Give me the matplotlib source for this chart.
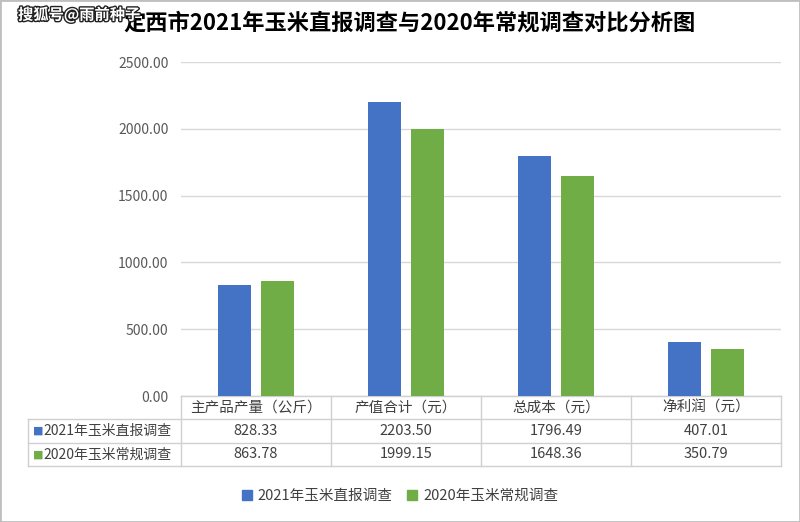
import matplotlib
matplotlib.use('Agg')
import matplotlib.pyplot as plt
import matplotlib.patheffects as pe
from matplotlib.patches import Patch, Rectangle
import numpy as np

plt.rcParams['font.family'] = ['Noto Sans CJK SC', 'DejaVu Sans']

# data
categories = ['主产品产量（公斤）', '产值合计（元）', '总成本（元）', '净利润（元）']
series_names = ['2021年玉米直报调查', '2020年玉米常规调查']
vals_2021 = [828.33, 2203.50, 1796.49, 407.01]
vals_2020 = [863.78, 1999.15, 1648.36, 350.79]
colors = ['#4472C4', '#70AD47']
yticks = [0, 500, 1000, 1500, 2000, 2500]

W, H = 800, 522
fig = plt.figure(figsize=(W / 100, H / 100), dpi=100)
fig.patches.append(Rectangle((0, 0), 1, 1, transform=fig.transFigure,
                             fill=False, edgecolor='#bfbfbf', linewidth=2))

# axes placed in pixel terms
left, right, top, bottom = 181, 781, 62, 396
ax = fig.add_axes([left / W, 1 - bottom / H, (right - left) / W, (bottom - top) / H])

x = np.arange(len(categories))
bw = 0.22
off = 0.143
ax.bar(x - off, vals_2021, bw, color=colors[0], zorder=3)
ax.bar(x + off, vals_2020, bw, color=colors[1], zorder=3)

ax.set_xlim(-0.5, len(categories) - 0.5)
ax.set_ylim(0, 2500)
ax.set_yticks(yticks)
ax.set_yticklabels([f'{v:.2f}' for v in yticks], fontsize=10, color='#595959')
ax.tick_params(axis='y', length=0, pad=9)
ax.set_xticks([])
ax.yaxis.grid(True, color='#d9d9d9', linewidth=1, zorder=0)
for s in ax.spines.values():
    s.set_visible(False)

# data table under the axes
grid_c = '#d0d0d0'
row_h = 0.07
label_left = -0.5 - 153 / 150
tr = ax.get_xaxis_transform()
kw = dict(transform=tr, clip_on=False, color=grid_c, linewidth=1)
ax.plot([-0.5, len(categories) - 0.5], [0, 0], **kw)
for k in (1, 2, 3):
    ax.plot([label_left, len(categories) - 0.5], [-k * row_h] * 2, **kw)
ax.plot([label_left] * 2, [-row_h, -3 * row_h], **kw)
for xb in np.arange(len(categories) + 1) - 0.5:
    ax.plot([xb, xb], [0, -3 * row_h], **kw)

for i, c in enumerate(categories):
    ax.text(i, -0.5 * row_h, c, transform=tr, ha='center', va='center',
            fontsize=10.5, color='#404040')
    ax.text(i, -1.5 * row_h, f'{vals_2021[i]:.2f}', transform=tr, ha='center',
            va='center', fontsize=10.5, color='#404040')
    ax.text(i, -2.5 * row_h, f'{vals_2020[i]:.2f}', transform=tr, ha='center',
            va='center', fontsize=10.5, color='#404040')

for r, (name, col) in enumerate(zip(series_names, colors)):
    yc = -(1.5 + r) * row_h
    ax.text(label_left + 0.03, yc, '■', transform=tr, ha='left', va='center',
            fontsize=8, color=col, family=['DejaVu Sans'])
    ax.text(label_left + 0.1, yc, name, transform=tr, ha='left', va='center',
            fontsize=10, color='#404040')

# legend
handles = [Patch(color=c, label=n) for c, n in zip(colors, series_names)]
fig.legend(handles=handles, loc='center', bbox_to_anchor=(0.5, 1 - 496 / H), ncol=2,
           frameon=False, fontsize=10.5, handlelength=0.7, handleheight=0.7,
           handletextpad=0.4, columnspacing=1.0, labelcolor='#404040')

# title
fig.text(0.512, 1 - 23 / H, '定西市2021年玉米直报调查与2020年常规调查对比分析图',
         ha='center', va='center', fontsize=16, fontweight='bold', color='#000000')

# watermark
fig.text(18 / W, 1 - 15 / H, '搜狐号@雨前种子', ha='left', va='center', fontsize=11,
         fontweight='bold', color='white',
         path_effects=[pe.withStroke(linewidth=2, foreground='#222222')])

fig.savefig('out.png', dpi=100)
